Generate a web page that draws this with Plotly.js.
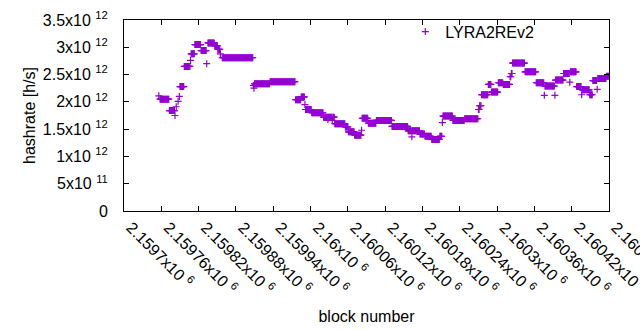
<!DOCTYPE html>
<html>
<head>
<meta charset="utf-8">
<script src="https://cdn.plot.ly/plotly-3.0.1.min.js"></script>
<style>html,body{margin:0;padding:0;background:#fff;}#chart{width:640px;height:330px;}</style>
</head>
<body>
<div id="chart"></div>
<script>
// Runs of blocks with a constant hashrate estimate (block numbers, h/s)
const runStart = [2159756,2159758,2159773,2159782,2159784,2159787,2159789,2159790,2159797,2159807,2159808,2159814,2159824,2159833,2159835,2159846,2159851,2159855,2159858,2159908,2159909,2159910,2159935,2159976,2159985,2159991,2159992,2160002,2160021,2160028,2160029,2160035,2160036,2160039,2160056,2160061,2160071,2160082,2160083,2160093,2160106,2160131,2160157,2160163,2160164,2160176,2160184,2160195,2160208,2160212,2160213,2160229,2160248,2160270,2160272,2160275,2160286,2160291,2160302,2160310,2160321,2160323,2160325,2160345,2160363,2160376,2160377,2160393,2160394,2160407,2160417,2160418,2160428,2160436,2160437,2160449,2160454,2160461,2160462,2160476];
const runEnd   = [2159756,2159772,2159781,2159782,2159784,2159787,2159789,2159796,2159806,2159807,2159813,2159823,2159832,2159833,2159845,2159850,2159854,2159855,2159907,2159908,2159909,2159934,2159975,2159984,2159990,2159991,2160001,2160020,2160027,2160028,2160034,2160035,2160038,2160055,2160060,2160070,2160081,2160082,2160092,2160105,2160130,2160156,2160162,2160163,2160175,2160183,2160194,2160207,2160211,2160212,2160228,2160247,2160269,2160271,2160274,2160285,2160290,2160301,2160309,2160320,2160322,2160324,2160344,2160362,2160375,2160376,2160392,2160393,2160406,2160416,2160417,2160427,2160435,2160436,2160448,2160453,2160460,2160461,2160475,2160479];
const runValue = [2.11e12,2.05e12,1.84e12,1.75e12,1.91e12,2.01e12,2.10e12,2.28e12,2.65e12,2.76e12,2.88e12,3.05e12,2.94e12,2.70e12,3.08e12,3.03e12,2.96e12,2.88e12,2.81e12,2.30e12,2.25e12,2.33e12,2.37e12,2.04e12,2.09e12,1.95e12,1.86e12,1.80e12,1.72e12,1.67e12,1.72e12,1.66e12,1.72e12,1.60e12,1.54e12,1.45e12,1.39e12,1.48e12,1.70e12,1.61e12,1.66e12,1.55e12,1.47e12,1.36e12,1.47e12,1.41e12,1.37e12,1.31e12,1.37e12,1.62e12,1.74e12,1.66e12,1.69e12,1.86e12,1.93e12,2.13e12,2.32e12,2.18e12,2.35e12,2.32e12,2.46e12,2.52e12,2.71e12,2.55e12,2.35e12,2.12e12,2.29e12,2.12e12,2.40e12,2.52e12,2.36e12,2.55e12,2.28e12,2.13e12,2.22e12,2.13e12,2.39e12,2.23e12,2.43e12,2.47e12];

const xTickVals = [2159700,2159760,2159820,2159880,2159940,2160000,2160060,2160120,2160180,2160240,2160300,2160360,2160420,2160480];
const xTickMant = ["2.1597","2.15976","2.15982","2.15988","2.15994","2.16","2.16006","2.16012","2.16018","2.16024","2.1603","2.16036","2.16042","2.16048"];
const yTickVals = [0,5e11,1e12,1.5e12,2e12,2.5e12,3e12,3.5e12];
const yTickMant = ["0","5","1","1.5","2","2.5","3","3.5"];
const yTickExp  = ["","11","12","12","12","12","12","12"];

const blocks = [], rates = [];
for (let i = 0; i < runStart.length; i++) {
  for (let b = runStart[i]; b <= runEnd[i]; b++) { blocks.push(b); rates.push(runValue[i]); }
}

const xTickText = xTickMant.map(m => m + "x10 <sup>6</sup>");
const yTickText = yTickMant.map((m, i) => yTickExp[i] ? m + "x10 <sup>" + yTickExp[i] + "</sup>" : m);

const FONT = "Liberation Sans, Arial, sans-serif";
const trace = {
  x: blocks, y: rates, type: "scatter", mode: "markers", name: "LYRA2REv2",
  marker: {symbol: "cross-thin", size: 5, color: "#9400d3", line: {color: "#9400d3", width: 1.2}},
  cliponaxis: true
};
const layout = {
  width: 640, height: 330,
  margin: {l: 124, r: 31, t: 20, b: 119},
  paper_bgcolor: "#fff", plot_bgcolor: "#fff",
  font: {family: FONT, size: 16, color: "#000"},
  showlegend: true,
  legend: {x: 0.58, y: 1.028, xanchor: "left", yanchor: "top", bgcolor: "rgba(0,0,0,0)", font: {size: 16}},
  xaxis: {
    range: [2159700, 2160480], tickmode: "array", tickvals: xTickVals, ticktext: xTickText,
    tickangle: 45, ticks: "inside", ticklen: 5, tickcolor: "#000", showline: true, linecolor: "#000",
    linewidth: 1, mirror: "ticks", showgrid: false, zeroline: false,
    ticklabeloverflow: "allow", ticklabelshift: 7,
    title: {text: "block number", font: {size: 16}, standoff: 14}, automargin: false
  },
  yaxis: {
    range: [0, 3.5e12], tickmode: "array", tickvals: yTickVals, ticktext: yTickText,
    ticks: "inside", ticklen: 5, tickcolor: "#000", showline: true, linecolor: "#000",
    linewidth: 1, mirror: "ticks", showgrid: false, zeroline: false, ticklabelstandoff: 12,
    ticklabeloverflow: "allow",
    title: {text: "hashrate [h/s]", font: {size: 16}, standoff: 3}, automargin: false
  }
};
Plotly.newPlot("chart", [trace], layout, {staticPlot: true, displayModeBar: false});
</script>
</body>
</html>
